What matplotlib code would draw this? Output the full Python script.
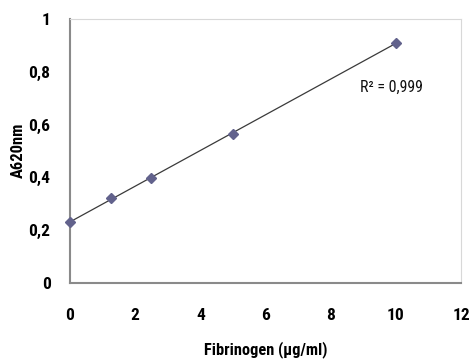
import numpy as np
import matplotlib
matplotlib.use("Agg")
import matplotlib.pyplot as plt
from matplotlib import font_manager

conc = [0, 1.25, 2.5, 5, 10]
absorb = [0.231, 0.322, 0.397, 0.565, 0.91]
r2_text = "R² = 0,999"
xticks = [0, 2, 4, 6, 8, 10, 12]
yticks = [0, 0.2, 0.4, 0.6, 0.8, 1.0]
ytick_labels = ["0", "0,2", "0,4", "0,6", "0,8", "1"]

names = {f.name for f in font_manager.fontManager.ttflist}
cands = ["Liberation Sans Narrow", "Roboto Condensed", "Open Sans Condensed", "DejaVu Sans Condensed"]
chosen = [c for c in cands if c in names]
stretch = "normal"
if chosen:
    fam = [chosen[0], "DejaVu Sans"]
else:
    fam = ["DejaVu Sans", "Liberation Sans"]
    stretch = "condensed"
plt.rcParams['font.family'] = fam
plt.rcParams['font.stretch'] = stretch

fig = plt.figure(figsize=(4.73, 3.63), dpi=100)
ax = fig.add_axes([70/473, 1-283/363, (461-70)/473, (283-19)/363])

slope, icpt = np.polyfit(conc, absorb, 1)
xs = np.array([min(conc), max(conc)])
ax.plot(xs, slope*xs + icpt, color="#3a3a3a", lw=0.9, zorder=2)
ax.plot(conc, absorb, linestyle="none", marker="D", ms=5.5, color="#62628c", zorder=3, clip_on=False)

ax.set_xlim(0, 12)
ax.set_ylim(0, 1)
ax.set_xticks(xticks)
ax.set_xticklabels([str(t) for t in xticks], fontsize=12.5, fontweight="bold")
ax.set_yticks(yticks)
ax.set_yticklabels(ytick_labels, fontsize=12.5, fontweight="bold")
ax.tick_params(axis='x', length=0, pad=18)
ax.tick_params(axis='y', length=0, pad=14)

for s in ["left", "bottom"]:
    ax.spines[s].set_color("#8a8a8a")
    ax.spines[s].set_linewidth(1.5)
for s in ["top", "right"]:
    ax.spines[s].set_color("#d8d8d8")
    ax.spines[s].set_linewidth(0.8)

ax.text(8.9, 0.742, r2_text, fontsize=11.5, color="#111111", va="center")

fig.text(266/473, 1-350/363, "Fibrinogen (µg/ml)", fontsize=11.8, fontweight="bold", ha="center", va="center")
fig.text(18/473, 1-150/363, "A620nm", fontsize=12, fontweight="bold", rotation=90, ha="center", va="center")

fig.savefig("out.png", dpi=100)
